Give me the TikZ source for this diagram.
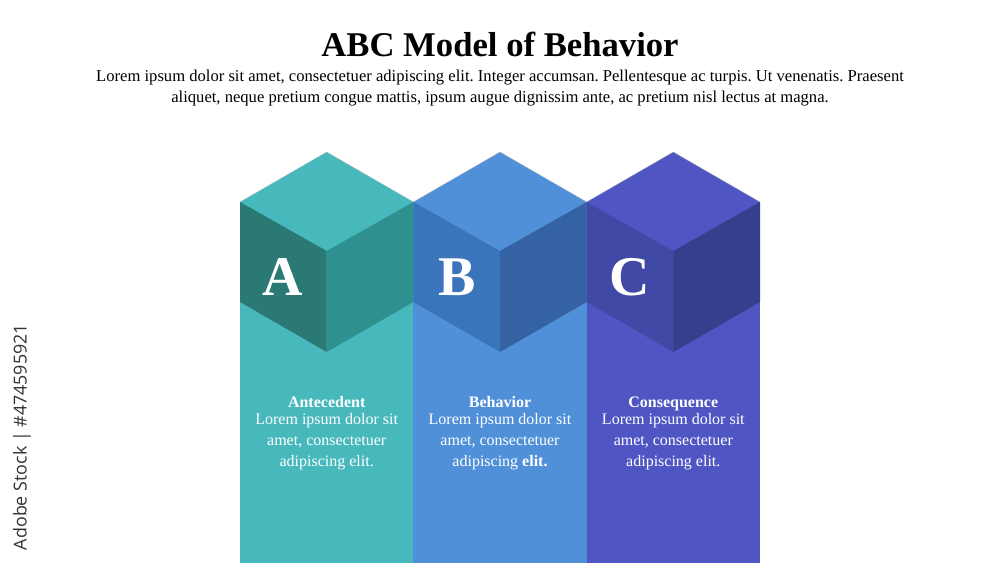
\documentclass[tikz,border=0pt]{standalone}
\usepackage{fontspec}
\setmainfont{Liberation Serif}
\newfontfamily\wmfont{Open Sans}
\frenchspacing
\definecolor{colA}{HTML}{47B9BC}
\definecolor{colAl}{HTML}{2A7974}
\definecolor{colAr}{HTML}{2F918F}
\definecolor{colB}{HTML}{5090D8}
\definecolor{colBl}{HTML}{3A75BC}
\definecolor{colBr}{HTML}{3462A3}
\definecolor{colC}{HTML}{4F56C4}
\definecolor{colCl}{HTML}{4149A6}
\definecolor{colCr}{HTML}{34408C}
\definecolor{edgegray}{HTML}{B8B8B8}
\tikzset{
  letter/.style={text=white, font=\fontsize{42}{42}\selectfont\bfseries, inner sep=0pt},
  colhead/.style={text=white, font=\fontsize{12}{15.75}\selectfont\bfseries, inner sep=0pt, anchor=base},
  coltext/.style={text=white, align=center, font=\fontsize{12}{15.75}\selectfont, inner sep=0pt, anchor=north},
}
\begin{document}
\begin{tikzpicture}[x=0.75pt,y=-0.75pt]
\useasboundingbox (0,0) rectangle (1000,563);
\fill[white] (0,0) rectangle (1000,563);
% columns
\fill[colA] (240,202) rectangle (413.3,563);
\fill[colB] (413.3,202) rectangle (586.7,563);
\fill[colC] (586.7,202) rectangle (760,563);
% cubes
\foreach \cx/\ct/\cl/\cr in {326.7/colA/colAl/colAr, 500/colB/colBl/colBr, 673.3/colC/colCl/colCr}{
  \fill[\ct] (\cx,152) -- (\cx+86.7,202) -- (\cx,251) -- (\cx-86.7,202) -- cycle;
  \fill[\cl] (\cx-86.7,202) -- (\cx,251) -- (\cx,352) -- (\cx-86.7,302) -- cycle;
  \fill[\cr] (\cx+86.7,202) -- (\cx,251) -- (\cx,352) -- (\cx+86.7,302) -- cycle;
  \draw[edgegray, line width=0.4pt, opacity=0.6] (\cx-86.7,202) -- (\cx,152) -- (\cx+86.7,202);
}
% letters
\node[letter] (la) at (283,277) {A};
\node[letter] (lb) at (457,277) {B};
\node[letter] (lc) at (630,277) {C};
% column texts
\node[colhead] (ha) at (326.7,407) {Antecedent};
\node[colhead] (hb) at (500,407) {Behavior};
\node[colhead] (hc) at (673.3,407) {Consequence};
\node[coltext] (ta) at (326.7,413.5) {Lorem ipsum dolor sit\\amet, consectetuer\\adipiscing elit.};
\node[coltext] (tb) at (500,413.5) {Lorem ipsum dolor sit\\amet, consectetuer\\adipiscing \textbf{elit.}};
\node[coltext] (tc) at (673.3,413.5) {Lorem ipsum dolor sit\\amet, consectetuer\\adipiscing elit.};
% title
\node[font=\fontsize{26}{26}\selectfont\bfseries, inner sep=0pt] (title) at (500,44) {ABC Model of Behavior};
\node[align=center, font=\fontsize{12.45}{15.75}\selectfont, inner sep=0pt, anchor=north] (sub) at (500,70) {Lorem ipsum dolor sit amet, consectetuer adipiscing elit. Integer accumsan. Pellentesque ac turpis. Ut venenatis. Praesent\\aliquet, neque pretium congue mattis, ipsum augue dignissim ante, ac pretium nisl lectus at magna.};
% watermark
\node[rotate=90, font=\wmfont\fontsize{13.4}{13.4}\selectfont, text=black!80, inner sep=0pt] (wm) at (22,437) {Adobe Stock | \#474595921};
\end{tikzpicture}
\end{document}
